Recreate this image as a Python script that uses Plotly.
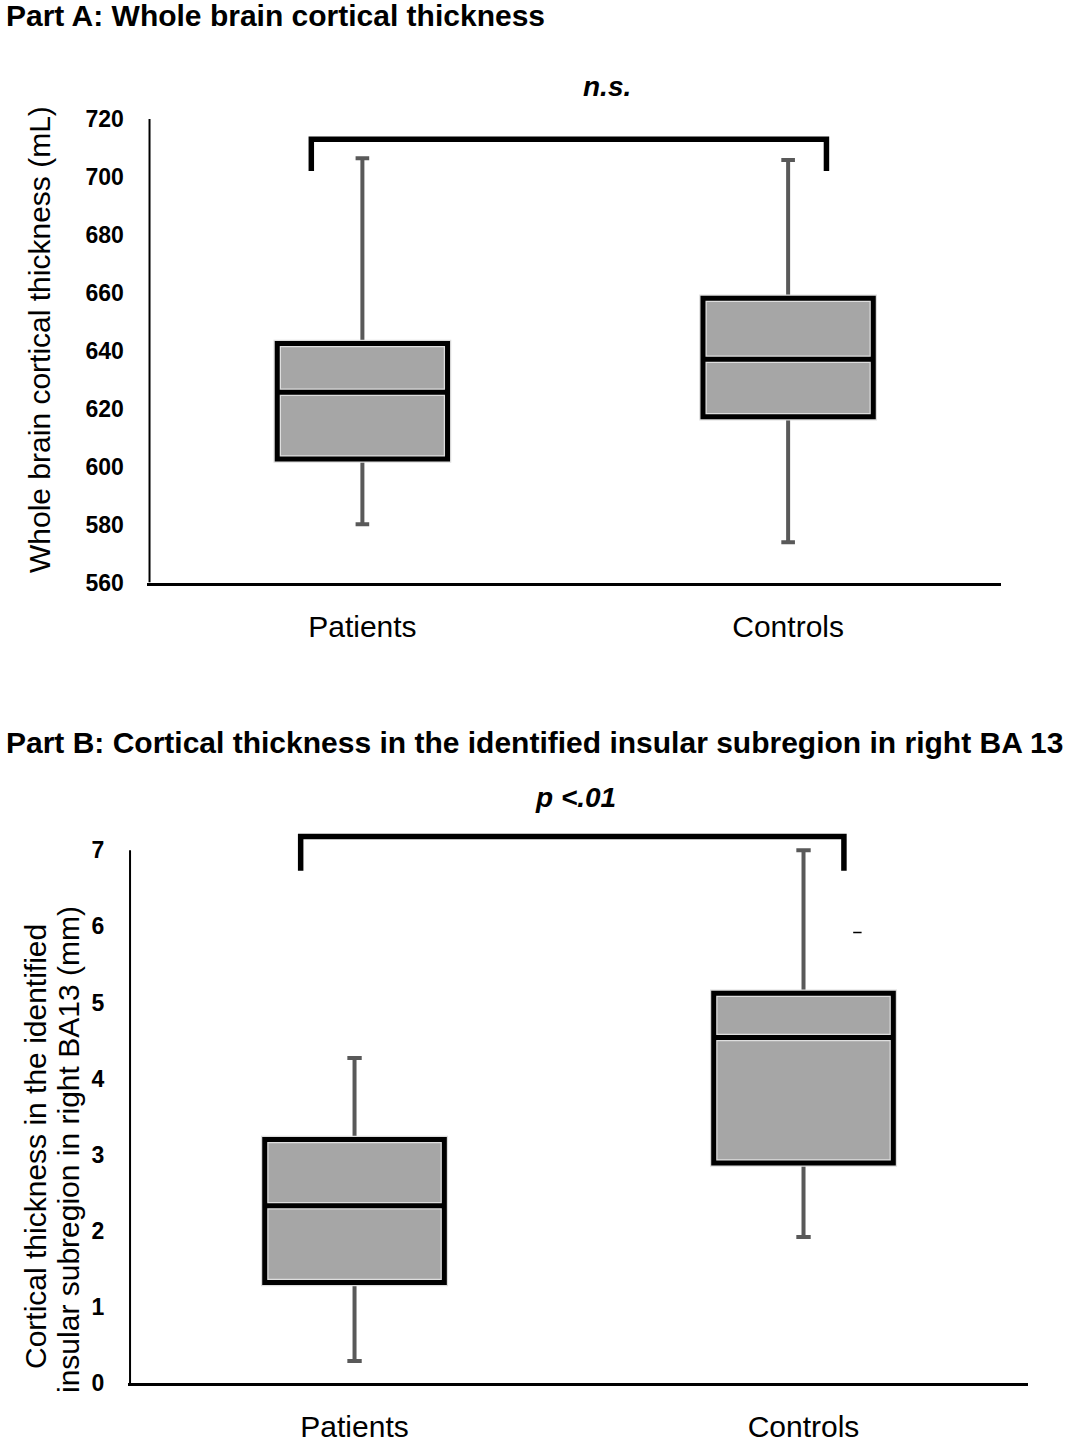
import plotly.graph_objects as go

# ---------------- data ----------------
groups = ["Patients", "Controls"]

# Part A: whole brain cortical thickness (mL)
a_lower = [580.1, 573.9]
a_q1 = [602.6, 617.2]
a_median = [625.7, 637.1]
a_q3 = [642.5, 658.1]
a_upper = [706.4, 705.8]
a_ticks = [560, 580, 600, 620, 640, 660, 680, 700, 720]
a_bracket = [713.0, 702.0]          # bracket top, bracket leg end
a_label = "n.s."

# Part B: cortical thickness in right BA13 (mm)
b_lower = [0.29, 1.92]
b_q1 = [1.32, 2.89]
b_median = [2.33, 4.54]
b_q3 = [3.20, 5.12]
b_upper = [4.27, 7.00]
b_ticks = [0, 1, 2, 3, 4, 5, 6, 7]
b_bracket = [7.18, 6.73]
b_label = "p <.01"
b_mark_x = [1.12]
b_mark_y = [5.92]

# ---------------- style ----------------
W, H = 1085, 1437
FONT = "Arial, Liberation Sans, Helvetica, sans-serif"
FILL = "#a6a6a6"
WHISK = "#595959"
xpos = list(range(len(groups)))

fig = go.Figure()


def add_boxes(xa, ya, lower, q1, med, q3, upper):
    # whiskers (gray) drawn first, hidden inside the box by the next traces
    fig.add_trace(go.Box(
        x=xpos, q1=med, median=med, q3=med, lowerfence=lower, upperfence=upper,
        width=0.40, whiskerwidth=0.08, boxpoints=False,
        line=dict(color=WHISK, width=4), fillcolor="rgba(0,0,0,0)",
        xaxis=xa, yaxis=ya, showlegend=False, hoverinfo="skip"))
    # box body with a light edge (thin light inner rim)
    fig.add_trace(go.Box(
        x=xpos, q1=q1, median=med, q3=q3, lowerfence=q1, upperfence=q3,
        width=0.40, whiskerwidth=0, boxpoints=False,
        line=dict(color="#dedede", width=7.5), fillcolor=FILL,
        xaxis=xa, yaxis=ya, showlegend=False, hoverinfo="skip"))
    # black outline and median
    fig.add_trace(go.Box(
        x=xpos, q1=q1, median=med, q3=q3, lowerfence=q1, upperfence=q3,
        width=0.40, whiskerwidth=0, boxpoints=False,
        line=dict(color="black", width=5), fillcolor="rgba(0,0,0,0)",
        xaxis=xa, yaxis=ya, showlegend=False, hoverinfo="skip"))


add_boxes("x", "y", a_lower, a_q1, a_median, a_q3, a_upper)
add_boxes("x2", "y2", b_lower, b_q1, b_median, b_q3, b_upper)

fig.add_trace(go.Scatter(
    x=b_mark_x, y=b_mark_y, mode="markers", xaxis="x2", yaxis="y2",
    marker=dict(symbol="line-ew", size=6, line=dict(width=1.5, color="black")),
    showlegend=False, hoverinfo="skip"))

xaxis_common = dict(
    range=[-0.505, 1.5], tickvals=xpos, ticktext=groups,
    showline=True, linewidth=3.5, linecolor="black",
    ticks="outside", ticklen=15, tickcolor="rgba(0,0,0,0)",
    tickfont=dict(family=FONT, size=30, color="black"),
    showgrid=False, zeroline=False, fixedrange=True, automargin=False)
yaxis_common = dict(
    showline=False, ticks="outside", ticklen=18, tickcolor="rgba(0,0,0,0)",
    tickfont=dict(family=FONT, size=23, color="black", weight="bold"),
    showgrid=False, zeroline=False, fixedrange=True, automargin=False)

shapes = []
# y-axis lines (only up to the top tick)
shapes.append(dict(type="line", xref="x", yref="y", x0=-0.5, x1=-0.5,
                   y0=a_ticks[0], y1=a_ticks[-1], line=dict(color="black", width=2)))
shapes.append(dict(type="line", xref="x2", yref="y2", x0=-0.5, x1=-0.5,
                   y0=b_ticks[0], y1=b_ticks[-1], line=dict(color="black", width=2)))


def bracket(xr, yr, top, leg):
    x0, x1 = -0.12, 1.09
    return dict(type="path", xref=xr, yref=yr,
                path=f"M {x0},{leg} L {x0},{top} L {x1},{top} L {x1},{leg}",
                line=dict(color="black", width=5.5))


shapes.append(bracket("x", "y", a_bracket[0], a_bracket[1]))
shapes.append(bracket("x2", "y2", b_bracket[0], b_bracket[1]))


def px_y(p):
    return 1 - p / H


def px_x(p):
    return p / W


annotations = [
    dict(text="<b>Part A: Whole brain cortical thickness</b>", xref="paper", yref="paper",
         x=px_x(4), y=px_y(16), xanchor="left", yanchor="middle", showarrow=False,
         font=dict(family=FONT, size=30, color="black")),
    dict(text="<b>Part B: Cortical thickness in the identified insular subregion in right BA 13</b>",
         xref="paper", yref="paper", x=px_x(4), y=px_y(742), xanchor="left", yanchor="middle",
         showarrow=False, font=dict(family=FONT, size=30, color="black")),
    dict(text=f"<b><i>{a_label}</i></b>", xref="paper", yref="paper", x=px_x(607), y=px_y(87),
         xanchor="center", yanchor="middle", showarrow=False,
         font=dict(family=FONT, size=28, color="black")),
    dict(text=f"<b><i>{b_label}</i></b>", xref="paper", yref="paper", x=px_x(575), y=px_y(797),
         xanchor="center", yanchor="middle", showarrow=False,
         font=dict(family=FONT, size=28, color="black")),
    dict(text="Whole brain cortical thickness (mL)", xref="paper", yref="paper",
         x=px_x(40), y=px_y(340), xanchor="center", yanchor="middle", textangle=-90,
         showarrow=False, font=dict(family=FONT, size=30, color="black")),
    dict(text="Cortical thickness in the identified", xref="paper", yref="paper",
         x=px_x(35), y=px_y(1147), xanchor="center", yanchor="middle", textangle=-90,
         showarrow=False, font=dict(family=FONT, size=30, color="black")),
    dict(text="insular subregion in right BA13 (mm)", xref="paper", yref="paper",
         x=px_x(68), y=px_y(1150), xanchor="center", yanchor="middle", textangle=-90,
         showarrow=False, font=dict(family=FONT, size=30, color="black")),
]

fig.update_layout(
    width=W, height=H, margin=dict(l=0, r=0, t=0, b=0, autoexpand=False),
    paper_bgcolor="white", plot_bgcolor="white",
    boxmode="overlay", showlegend=False,
    xaxis=dict(domain=[0.13585, 0.92258], anchor="y", **xaxis_common),
    yaxis=dict(domain=[0.59464, 0.94746], anchor="x", range=[560, 735],
               tickvals=a_ticks, **yaxis_common),
    xaxis2=dict(domain=[0.11779, 0.94747], anchor="y2", **xaxis_common),
    yaxis2=dict(domain=[0.03758, 0.44008], anchor="x2", range=[0, 7.6],
                tickvals=b_ticks, **yaxis_common),
    shapes=shapes, annotations=annotations,
)

post = (
    "var de=document.documentElement, bd=document.body;"
    "[de, bd].forEach(function(e){e.style.margin='0px';e.style.padding='0px';"
    "e.style.overflow='hidden';});"
)

fig.write_html("out.html",
               config={"displayModeBar": False, "staticPlot": True},
               post_script=post)
